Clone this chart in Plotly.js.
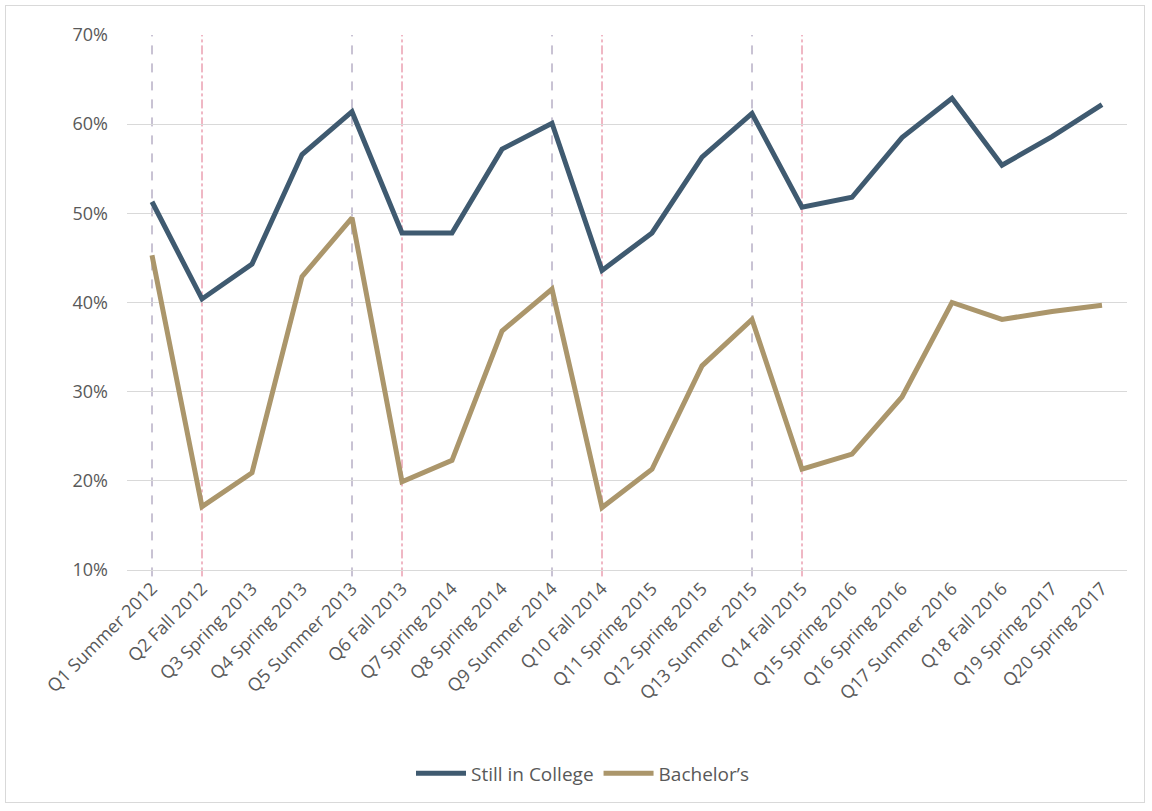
<!DOCTYPE html>
<html>
<head>
<meta charset="utf-8">
<script src="https://cdn.plot.ly/plotly-3.0.1.min.js"></script>
<style>
  html, body { margin: 0; padding: 0; background: #fff; }
  #frame { position: absolute; left: 5px; top: 5px; width: 1140px; height: 798px; border: 1px solid #d9d9d9; box-sizing: border-box; pointer-events: none; z-index: 10; }
  #chart { width: 1152px; height: 811px; }
</style>
</head>
<body>
<div id="frame"></div>
<div id="chart"></div>
<script>
const categories = [
  'Q1 Summer 2012', 'Q2 Fall 2012', 'Q3 Spring 2013', 'Q4 Spring 2013', 'Q5 Summer 2013',
  'Q6 Fall 2013', 'Q7 Spring 2014', 'Q8 Spring 2014', 'Q9 Summer 2014', 'Q10 Fall 2014',
  'Q11 Spring 2015', 'Q12 Spring 2015', 'Q13 Summer 2015', 'Q14 Fall 2015', 'Q15 Spring 2016',
  'Q16 Spring 2016', 'Q17 Summer 2016', 'Q18 Fall 2016', 'Q19 Spring 2017', 'Q20 Spring 2017'
];
const stillInCollege = [51.3, 40.4, 44.3, 56.6, 61.4, 47.8, 47.8, 57.2, 60.1, 43.6,
                        47.8, 56.3, 61.2, 50.7, 51.8, 58.5, 62.9, 55.4, 58.6, 62.2];
const bachelors = [45.3, 17.1, 20.9, 42.9, 49.5, 19.9, 22.3, 36.8, 41.5, 17.0,
                   21.3, 32.9, 38.1, 21.3, 23.0, 29.4, 40.0, 38.1, 39.0, 39.7];
const yTickVals = [10, 20, 30, 40, 50, 60, 70];
const yTickText = ['10%', '20%', '30%', '40%', '50%', '60%', '70%'];
const summerMarks = ['Q1 Summer 2012', 'Q5 Summer 2013', 'Q9 Summer 2014', 'Q13 Summer 2015'];
const fallMarks = ['Q2 Fall 2012', 'Q6 Fall 2013', 'Q10 Fall 2014', 'Q14 Fall 2015'];

const font = '"Open Sans", "Liberation Sans", sans-serif';

const traces = [
  { x: categories, y: stillInCollege, name: 'Still in College', type: 'scatter', mode: 'lines',
    line: { color: '#3f5a70', width: 5 } },
  { x: categories, y: bachelors, name: 'Bachelor\u2019s', type: 'scatter', mode: 'lines',
    line: { color: '#ab966b', width: 5 } }
];

const shapes = [];
summerMarks.forEach(c => shapes.push({ type: 'line', xref: 'x', yref: 'paper', x0: c, x1: c, y0: -0.012, y1: 1,
  line: { color: '#9286a8', width: 1, dash: 'dash' }, layer: 'below' }));
fallMarks.forEach(c => shapes.push({ type: 'line', xref: 'x', yref: 'paper', x0: c, x1: c, y0: -0.012, y1: 1,
  line: { color: '#e0708a', width: 1, dash: 'dashdot' }, layer: 'below' }));

const layout = {
  width: 1152, height: 811,
  margin: { l: 127, r: 25, t: 35, b: 241 },
  paper_bgcolor: '#ffffff', plot_bgcolor: '#ffffff',
  font: { family: font, color: '#595959', size: 16 },
  showlegend: true,
  legend: { orientation: 'h', x: 0.456, xanchor: 'center', y: -0.38, yanchor: 'middle',
            font: { family: font, size: 19, color: '#595959' }, itemwidth: 50 },
  xaxis: { type: 'category', range: [-0.5, 19.5], tickangle: -45, showgrid: false,
           showline: true, linecolor: '#d9d9d9', linewidth: 1, ticks: '', zeroline: false,
           tickfont: { family: font, size: 18, color: '#595959' }, fixedrange: true },
  yaxis: { range: [10, 70], tickvals: yTickVals, ticktext: yTickText, showgrid: true,
           gridcolor: '#d9d9d9', gridwidth: 1, zeroline: false, showline: false, ticks: '',
           ticklen: 0, ticklabelstandoff: 18,
           tickfont: { family: font, size: 18, color: '#595959' }, fixedrange: true },
  shapes: shapes
};

Plotly.newPlot('chart', traces, layout, { displayModeBar: false, staticPlot: true });
</script>
</body>
</html>
